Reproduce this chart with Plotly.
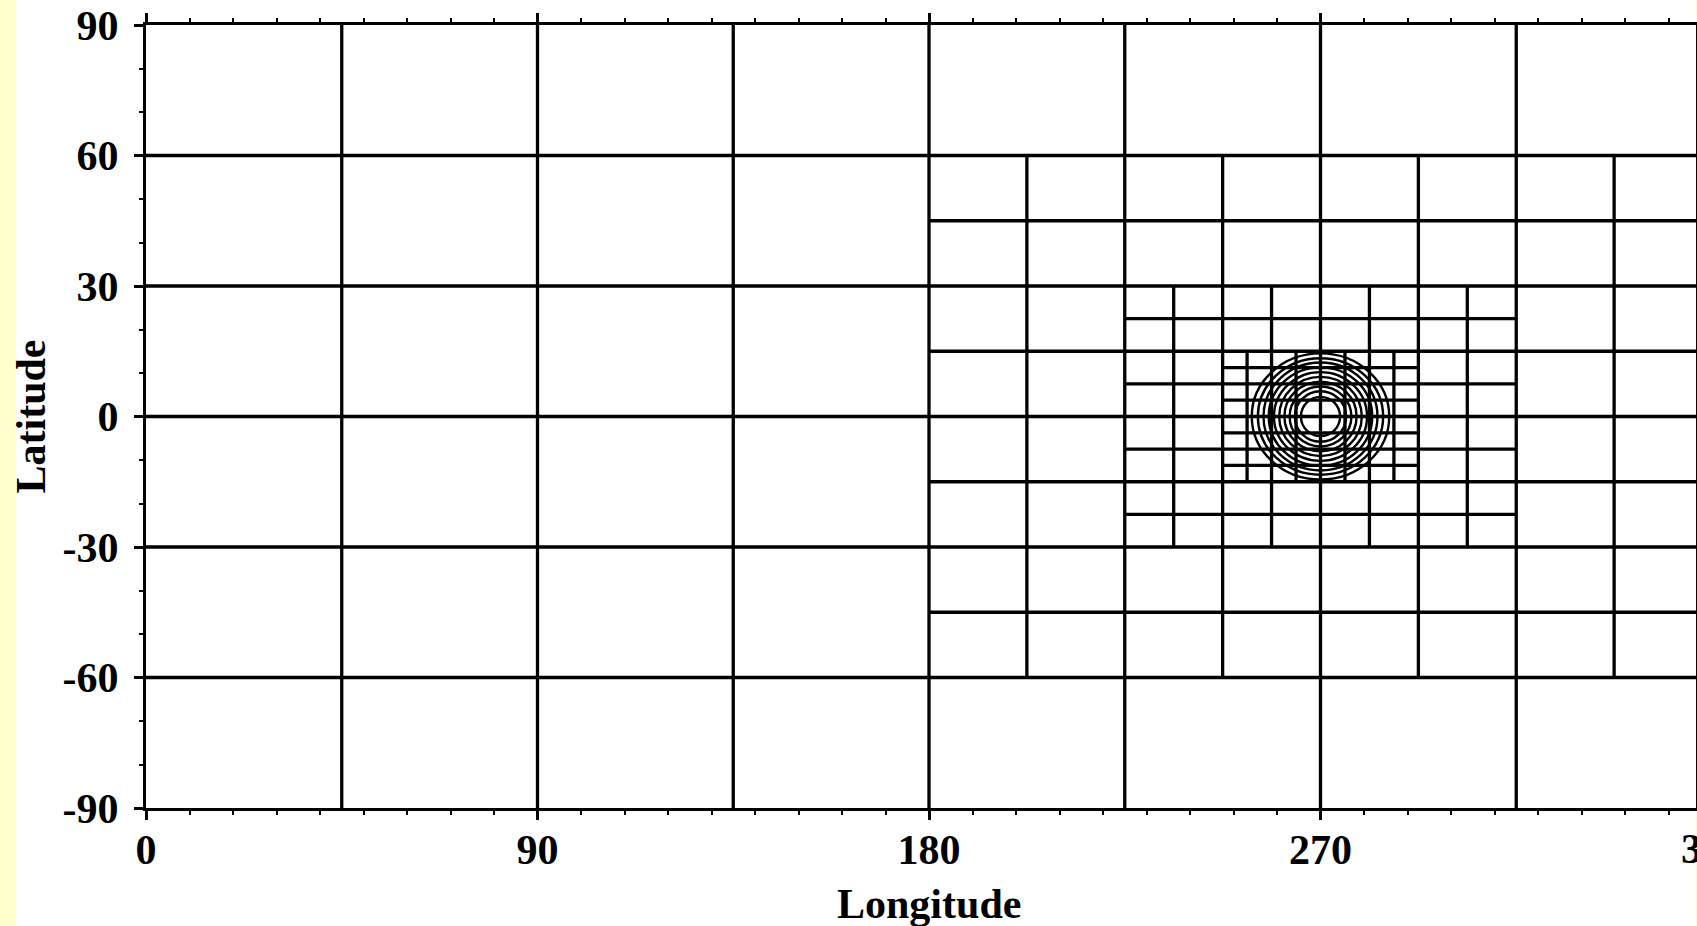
import plotly.graph_objects as go

# ---------------- data (degrees) ----------------
# Level 0 mesh (whole globe), 45 x 30 degree cells
lvl0_box = [0, 360, -90, 90]
lvl0_lon = [45, 90, 135, 180, 225, 270, 315]
lvl0_lat = [-60, -30, 0, 30, 60]

# Level 1 refinement
lvl1_box = [180, 360, -60, 60]
lvl1_lon = [202.5, 247.5, 292.5, 337.5]
lvl1_lat = [-45, -15, 15, 45]

# Level 2 refinement
lvl2_box = [225, 315, -30, 30]
lvl2_lon = [236.25, 258.75, 281.25, 303.75]
lvl2_lat = [-22.5, -7.5, 7.5, 22.5]

# Level 3 refinement
lvl3_box = [247.5, 292.5, -15, 15]
lvl3_lon = [253.125, 264.375, 275.625, 286.875]
lvl3_lat = [-11.25, -3.75, 3.75, 11.25]

# Concentric rings of the feature centred at (270, 0)
ring_center_lon = 270
ring_center_lat = 0
ring_rx = [4.5, 5.9, 7.1, 8.3, 9.5, 10.7, 11.9, 13.1, 14.4, 15.8]
ring_ry = [4.5, 5.8, 6.9, 8.0, 9.1, 10.2, 11.3, 12.4, 13.4, 14.5]

x_tickvals = [0, 90, 180, 270]
x_ticktext = ["0", "90", "180", "270"]
x_cut_label = "360"
x_cut_value = 360
y_tickvals = [-90, -60, -30, 0, 30, 60, 90]
y_ticktext = ["-90", "-60", "-30", "0", "30", "60", "90"]

x_title = "Longitude"
y_title = "Latitude"

# ---------------- figure ----------------
W, H = 1697, 926
ML, MR, MT, MB = 146, 1, 25, 118
PW, PH = W - ML - MR, H - MT - MB
px_per_deg = PH / 180.0
xmax = PW / px_per_deg

levels = [
    (lvl0_box, lvl0_lon, lvl0_lat),
    (lvl1_box, lvl1_lon, lvl1_lat),
    (lvl2_box, lvl2_lon, lvl2_lat),
    (lvl3_box, lvl3_lon, lvl3_lat),
]
xs, ys = [], []
for box, lons, lats in levels:
    lon0, lon1, lat0, lat1 = box
    for lo in lons:
        xs += [lo, lo, None]
        ys += [lat0, lat1, None]
    for la in lats:
        xs += [lon0, lon1, None]
        ys += [la, la, None]

fig = go.Figure()
fig.add_trace(go.Scatter(x=xs, y=ys, mode="lines",
                         line=dict(color="black", width=3.3),
                         hoverinfo="skip", showlegend=False))

shapes = []
for rx, ry in zip(ring_rx, ring_ry):
    shapes.append(dict(type="circle", xref="x", yref="y",
                       x0=ring_center_lon - rx, x1=ring_center_lon + rx,
                       y0=ring_center_lat - ry, y1=ring_center_lat + ry,
                       line=dict(color="black", width=2.4)))

yellow = "#FFFFCC"
shapes.append(dict(type="rect", xref="paper", yref="paper",
                   x0=-ML / PW, x1=(16 - ML) / PW,
                   y0=-MB / PH, y1=1 + MT / PH,
                   fillcolor=yellow, line=dict(width=0), layer="below"))
shapes.append(dict(type="rect", xref="paper", yref="paper",
                   x0=1.0, x1=1 + MR / PW,
                   y0=-MB / PH, y1=1 + MT / PH,
                   fillcolor=yellow, line=dict(width=0), layer="below"))

FS = 42
font_tick = dict(family="Liberation Serif", size=FS, color="black", weight="bold")

axis_common = dict(showgrid=False, zeroline=False, showline=True, linewidth=3.3,
                   linecolor="black", mirror="ticks", ticks="outside",
                   ticklen=9, tickwidth=3, tickcolor="black", automargin=False,
                   tickfont=font_tick, fixedrange=True)

label_center_px = 849  # vertical centre of x tick labels (page pixels)

fig.update_layout(
    width=W, height=H, autosize=False,
    margin=dict(l=ML, r=MR, t=MT, b=MB, pad=0, autoexpand=False),
    paper_bgcolor="white", plot_bgcolor="white",
    shapes=shapes,
    xaxis=dict(range=[0, xmax], tickmode="array", tickvals=x_tickvals,
               ticktext=x_ticktext, ticklabelstandoff=-7,
               minor=dict(tickmode="linear", tick0=0, dtick=10, ticks="outside",
                          ticklen=4, tickwidth=2, tickcolor="black", showgrid=False),
               **axis_common),
    yaxis=dict(range=[-90, 90], tickmode="array", tickvals=y_tickvals,
               ticktext=y_ticktext, ticklabelstandoff=7,
               minor=dict(tickmode="linear", tick0=0, dtick=10, ticks="outside",
                          ticklen=4, tickwidth=2, tickcolor="black", showgrid=False),
               **axis_common),
    annotations=[
        dict(text=x_cut_label, xref="paper", yref="paper",
             x=x_cut_value / xmax, y=-(label_center_px - (H - MB)) / PH,
             xanchor="center", yanchor="middle",
             showarrow=False, font=font_tick),
        dict(text=x_title, xref="x", yref="paper", x=180, y=-96 / PH,
             xanchor="center", yanchor="middle", showarrow=False,
             font=dict(family="Liberation Serif", size=FS, color="black", weight="bold")),
        dict(text=y_title, xref="paper", yref="y", x=(30 - ML) / PW, y=0,
             xanchor="center", yanchor="middle", textangle=-90, showarrow=False,
             font=dict(family="Liberation Serif", size=FS, color="black", weight="bold")),
    ],
)

fig.write_html(
    "out.html",
    config={"displayModeBar": False, "responsive": False},
    post_script="document.body.style.margin='0px';document.body.style.padding='0px';"
                "document.body.style.overflow='hidden';",
)
